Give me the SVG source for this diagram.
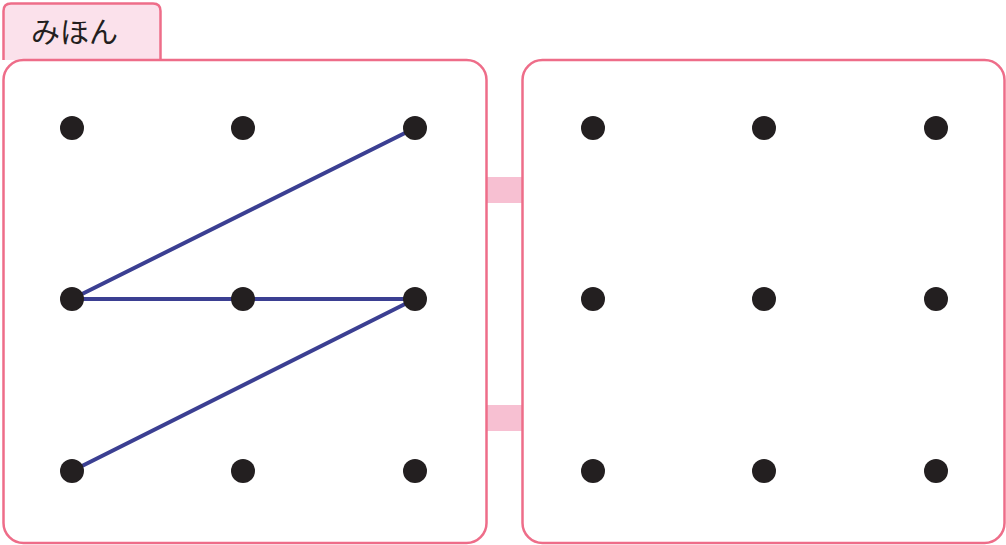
<svg xmlns="http://www.w3.org/2000/svg" width="1006" height="545" viewBox="0 0 1006 545">
<style>
.panel{fill:#fff;stroke:#ee6d89;stroke-width:2.5}
.tab{fill:#fbe1eb;stroke:#ee6d89;stroke-width:2.5}
.bridge{fill:#f7c0d2}
.dot{fill:#231f20}
.seg{stroke:#3b3f92;stroke-width:4;stroke-linecap:round;fill:none}
.lbl{font-family:"Noto Sans CJK JP","Noto Sans",sans-serif;font-size:29px;fill:#231f20}
</style>
<g id="bridges">
<rect class="bridge" x="487" y="177" width="35" height="26"/>
<rect class="bridge" x="487" y="405" width="35" height="26"/>
</g>
<g id="tab">
<path class="tab" d="M3.5 60 V11 Q3.5 3.5 11 3.5 H153 Q160.5 3.5 160.5 11 V60"/>
<text class="lbl" x="31" y="43">みほん</text>
</g>
<g id="left-panel">
<rect class="panel" x="3.5" y="60" width="483" height="483" rx="20"/>
</g>
<g id="right-panel">
<rect class="panel" x="522.5" y="60" width="482" height="483" rx="20"/>
</g>
<g id="connectors">
<line class="seg" x1="72" y1="299" x2="415" y2="128"/>
<line class="seg" x1="72" y1="299" x2="415" y2="299"/>
<line class="seg" x1="72" y1="471" x2="415" y2="299"/>
</g>
<g id="dots-left">
<circle class="dot" cx="72" cy="128" r="12"/>
<circle class="dot" cx="243" cy="128" r="12"/>
<circle class="dot" cx="415" cy="128" r="12"/>
<circle class="dot" cx="72" cy="299" r="12"/>
<circle class="dot" cx="243" cy="299" r="12"/>
<circle class="dot" cx="415" cy="299" r="12"/>
<circle class="dot" cx="72" cy="471" r="12"/>
<circle class="dot" cx="243" cy="471" r="12"/>
<circle class="dot" cx="415" cy="471" r="12"/>
</g>
<g id="dots-right">
<circle class="dot" cx="593" cy="128" r="12"/>
<circle class="dot" cx="764" cy="128" r="12"/>
<circle class="dot" cx="936" cy="128" r="12"/>
<circle class="dot" cx="593" cy="299" r="12"/>
<circle class="dot" cx="764" cy="299" r="12"/>
<circle class="dot" cx="936" cy="299" r="12"/>
<circle class="dot" cx="593" cy="471" r="12"/>
<circle class="dot" cx="764" cy="471" r="12"/>
<circle class="dot" cx="936" cy="471" r="12"/>
</g>
</svg>
